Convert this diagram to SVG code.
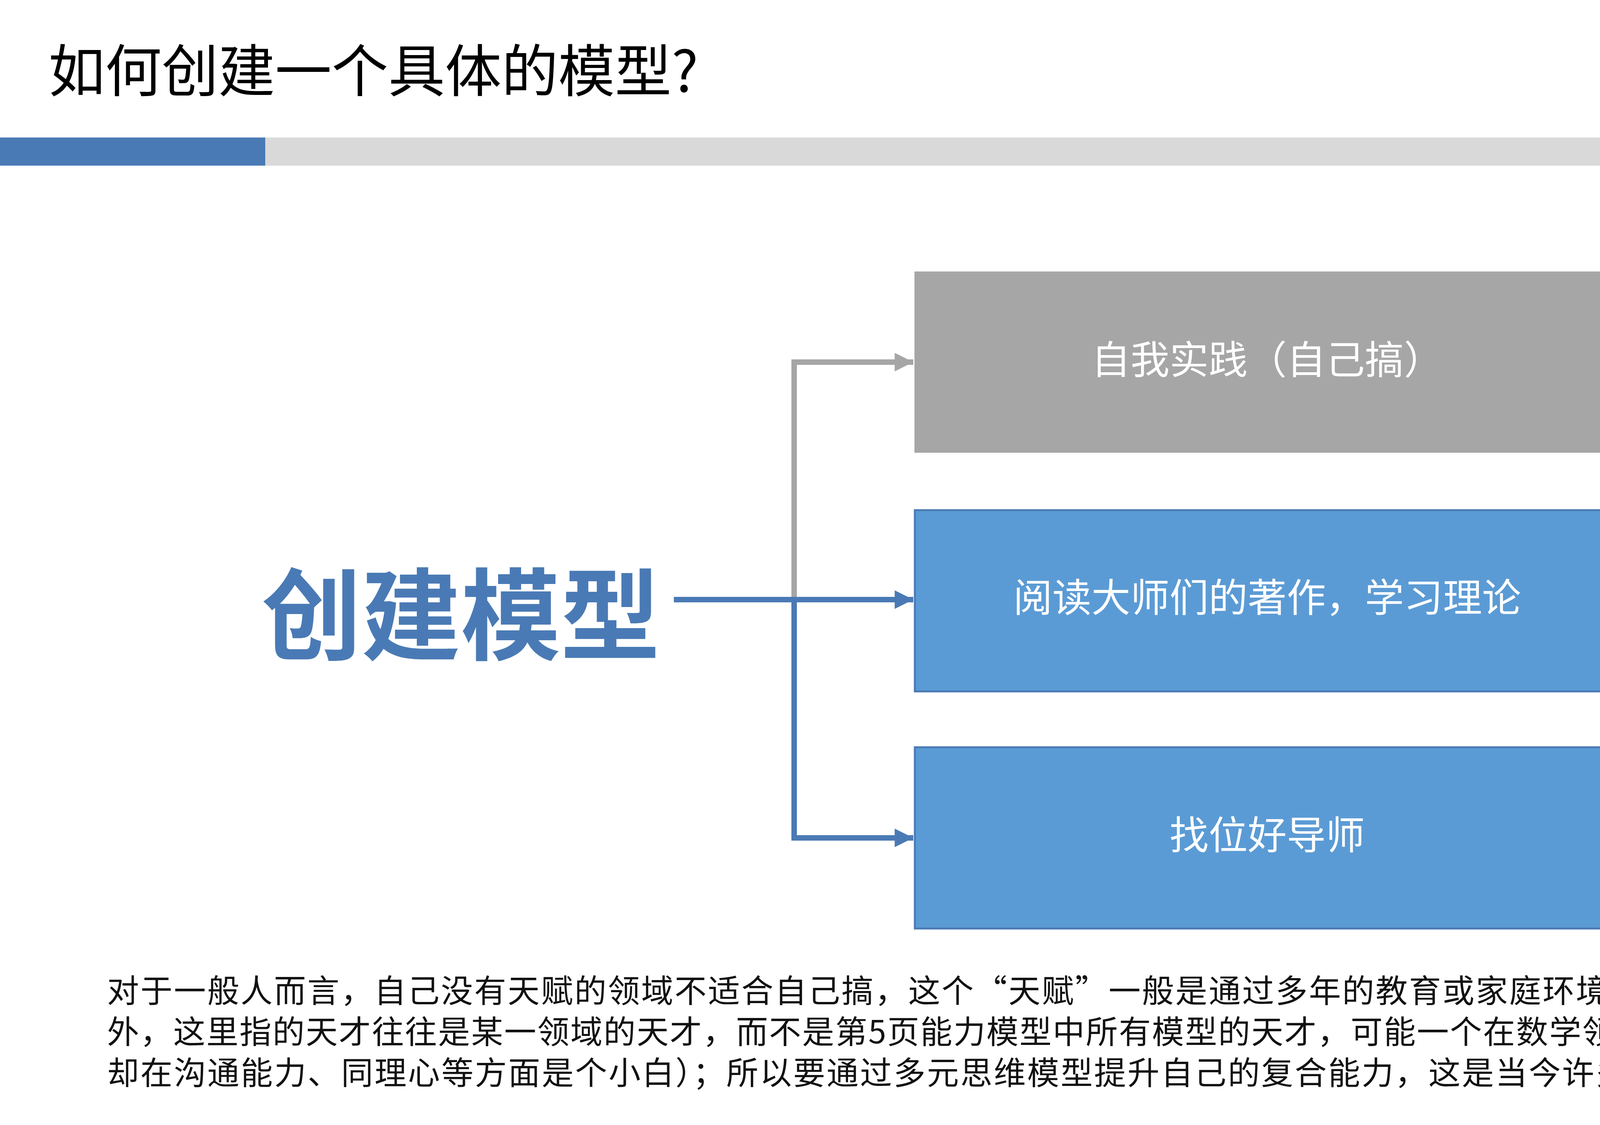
<svg xmlns="http://www.w3.org/2000/svg" width="5120" height="2880" viewBox="0 0 5120 2880">
<defs>
<style>
text{font-family:"Noto Sans CJK SC","Liberation Sans",sans-serif}
.bt{fill:#fff;font-size:100px;text-anchor:middle}
.body{fill:#111;font-size:82px}
.or{fill:#FF9900;font-size:126px;font-weight:bold}
</style>
<marker id="ab" viewBox="0 0 10 10" refX="10" refY="5" markerWidth="3.4" markerHeight="3.4" markerUnits="strokeWidth" orient="auto"><path d="M0,0L10,5L0,10z" fill="#4A7AB5"/></marker>
<marker id="ag" viewBox="0 0 10 10" refX="10" refY="5" markerWidth="3.4" markerHeight="3.4" markerUnits="strokeWidth" orient="auto"><path d="M0,0L10,5L0,10z" fill="#A6A6A6"/></marker>
</defs>
<rect width="5120" height="2880" fill="#fff"/>
<g id="header">
<text x="124" y="235" font-size="145" fill="#000">如何创建一个具体的模型?</text>
<text x="5032" y="278" font-size="70" fill="#A6A6A6" text-anchor="end">第 15 页</text>
<rect x="0" y="352" width="5120" height="72" fill="#D9D9D9"/>
<rect x="0" y="352" width="679" height="72" fill="#4A7AB5"/>
</g>
<g id="connectors" fill="none" stroke-width="14">
<path d="M2033,1535V927H2338" stroke="#A6A6A6" marker-end="url(#ag)"/>
<path d="M1725,1535H2338" stroke="#4A7AB5" marker-end="url(#ab)"/>
<path d="M2033,1535V2145H2338" stroke="#4A7AB5" marker-end="url(#ab)"/>
</g>
<g id="root"><text x="670" y="1600" font-size="255" font-weight="bold" fill="#4A7AB5" dominant-baseline="middle" dy="0">创建模型</text></g>
<g id="n1"><rect x="2341" y="695" width="1806" height="464" fill="#A6A6A6"/><text class="bt" x="3244" y="957">自我实践（自己搞）</text></g>
<g id="n2"><rect x="2342" y="1306" width="1805" height="464" fill="#5B9BD5" stroke="#4A7AB5" stroke-width="5"/><text class="bt" x="3244" y="1566">阅读大师们的著作，学习理论</text></g>
<g id="n3"><rect x="2342" y="1913" width="1805" height="464" fill="#5B9BD5" stroke="#4A7AB5" stroke-width="5"/><text class="bt" x="3244" y="2174">找位好导师</text></g>
<g id="note"><text class="or" x="4243" y="884">如何创建一个</text><text class="or" x="4243" y="1036">错误的方法论?</text></g>
<g id="body">
<text class="body" x="274" y="2566" textLength="4656" lengthAdjust="spacing">对于一般人而言，自己没有天赋的领域不适合自己搞，这个“天赋”一般是通过多年的教育或家庭环境培养起来的，（天才除</text>
<text class="body" x="274" y="2671" textLength="4706" lengthAdjust="spacing">外，这里指的天才往往是某一领域的天才，而不是第5页能力模型中所有模型的天才，可能一个在数学领域拥有极高造诣的人，</text>
<text class="body" x="274" y="2776" textLength="4663" lengthAdjust="spacing">却在沟通能力、同理心等方面是个小白）；所以要通过多元思维模型提升自己的复合能力，这是当今许多产品经理应该做的。</text>
</g>
</svg>
